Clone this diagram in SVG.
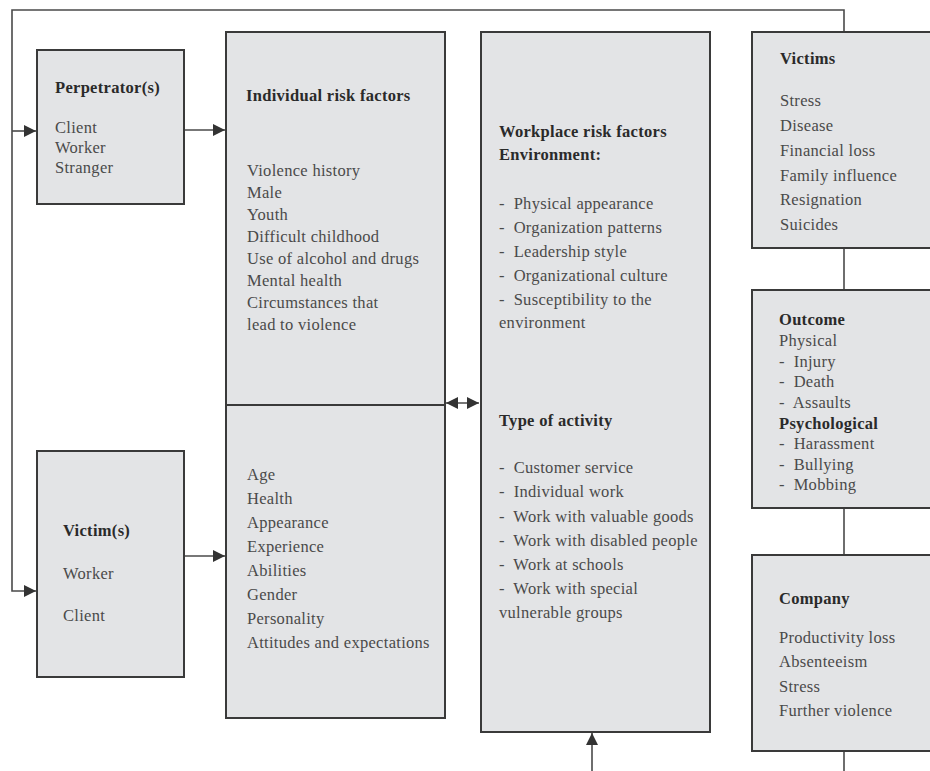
<svg xmlns="http://www.w3.org/2000/svg" width="930" height="771" viewBox="0 0 930 771">
<style>
.box{fill:#e3e4e6;stroke:#3a3a3a;stroke-width:2}
.ln{fill:none;stroke:#4a4a4a;stroke-width:1.6}
text{font-family:"Liberation Serif","Times New Roman",serif;font-size:16.5px;letter-spacing:0.3px;fill:#4a4a4a}
.b{font-weight:bold;fill:#2a2a2a}
</style>
<defs>
<marker id="ah" viewBox="0 0 10 10" refX="10" refY="5" markerWidth="12" markerHeight="12" markerUnits="userSpaceOnUse" orient="auto-start-reverse">
<path d="M0,0 L10,5 L0,10 z" fill="#333"/>
</marker>
</defs>
<rect width="930" height="771" fill="#fff"/>
<g id="connectors">
<path class="ln" d="M844,32 V10 H12 V591 H36" marker-end="url(#ah)"/>
<path class="ln" d="M12,131 H36" marker-end="url(#ah)"/>
<path class="ln" d="M184,130 H225" marker-end="url(#ah)"/>
<path class="ln" d="M184,556 H225" marker-end="url(#ah)"/>
<path class="ln" d="M446,403 H479" marker-start="url(#ah)" marker-end="url(#ah)"/>
<path class="ln" d="M592,771 V733" marker-end="url(#ah)"/>
<path class="ln" d="M844,248 V290"/>
<path class="ln" d="M844,508 V555"/>
<path class="ln" d="M844,751 V771"/>
</g>
<g id="perpetrators">
<rect class="box" x="37" y="50" width="147" height="154"/>
<text x="55" y="93" class="b">Perpetrator(s)</text>
<text x="55" y="133">Client</text>
<text x="55" y="153">Worker</text>
<text x="55" y="173">Stranger</text>
</g>
<g id="victim-s">
<rect class="box" x="37" y="451" width="147" height="226"/>
<text x="63" y="536" class="b">Victim(s)</text>
<text x="63" y="579">Worker</text>
<text x="63" y="621">Client</text>
</g>
<g id="individual-risk">
<rect class="box" x="226" y="32" width="219" height="373"/>
<text x="246" y="101" class="b">Individual risk factors</text>
<text x="247" y="176">Violence history</text>
<text x="247" y="198">Male</text>
<text x="247" y="220">Youth</text>
<text x="247" y="242">Difficult childhood</text>
<text x="247" y="264">Use of alcohol and drugs</text>
<text x="247" y="286">Mental health</text>
<text x="247" y="308">Circumstances that</text>
<text x="247" y="330">lead to violence</text>
</g>
<g id="victim-risk">
<rect class="box" x="226" y="405" width="219" height="313"/>
<text x="247" y="480">Age</text>
<text x="247" y="504">Health</text>
<text x="247" y="528">Appearance</text>
<text x="247" y="552">Experience</text>
<text x="247" y="576">Abilities</text>
<text x="247" y="600">Gender</text>
<text x="247" y="624">Personality</text>
<text x="247" y="648">Attitudes and expectations</text>
</g>
<g id="workplace">
<rect class="box" x="481" y="32" width="229" height="700"/>
<text x="499" y="137" class="b">Workplace risk factors</text>
<text x="499" y="160" class="b">Environment:</text>
<text x="499" y="209" xml:space="preserve">-  Physical appearance</text>
<text x="499" y="233" xml:space="preserve">-  Organization patterns</text>
<text x="499" y="257" xml:space="preserve">-  Leadership style</text>
<text x="499" y="281" xml:space="preserve">-  Organizational culture</text>
<text x="499" y="305" xml:space="preserve">-  Susceptibility to the</text>
<text x="499" y="328">environment</text>
<text x="499" y="426" class="b">Type of activity</text>
<text x="499" y="473" xml:space="preserve">-  Customer service</text>
<text x="499" y="497" xml:space="preserve">-  Individual work</text>
<text x="499" y="522" xml:space="preserve">-  Work with valuable goods</text>
<text x="499" y="546" xml:space="preserve">-  Work with disabled people</text>
<text x="499" y="570" xml:space="preserve">-  Work at schools</text>
<text x="499" y="594" xml:space="preserve">-  Work with special</text>
<text x="499" y="618">vulnerable groups</text>
</g>
<g id="victims-outcome">
<rect class="box" x="752" y="32" width="190" height="216"/>
<text x="780" y="64" class="b">Victims</text>
<text x="780" y="106">Stress</text>
<text x="780" y="131">Disease</text>
<text x="780" y="156">Financial loss</text>
<text x="780" y="181">Family influence</text>
<text x="780" y="205">Resignation</text>
<text x="780" y="230">Suicides</text>
</g>
<g id="outcome">
<rect class="box" x="752" y="290" width="190" height="218"/>
<text x="779" y="325" class="b">Outcome</text>
<text x="779" y="346">Physical</text>
<text x="779" y="367" xml:space="preserve">-  Injury</text>
<text x="779" y="387" xml:space="preserve">-  Death</text>
<text x="779" y="408" xml:space="preserve">-  Assaults</text>
<text x="779" y="429" class="b">Psychological</text>
<text x="779" y="449" xml:space="preserve">-  Harassment</text>
<text x="779" y="470" xml:space="preserve">-  Bullying</text>
<text x="779" y="490" xml:space="preserve">-  Mobbing</text>
</g>
<g id="company">
<rect class="box" x="752" y="555" width="190" height="196"/>
<text x="779" y="604" class="b">Company</text>
<text x="779" y="643">Productivity loss</text>
<text x="779" y="667">Absenteeism</text>
<text x="779" y="692">Stress</text>
<text x="779" y="716">Further violence</text>
</g>
</svg>
